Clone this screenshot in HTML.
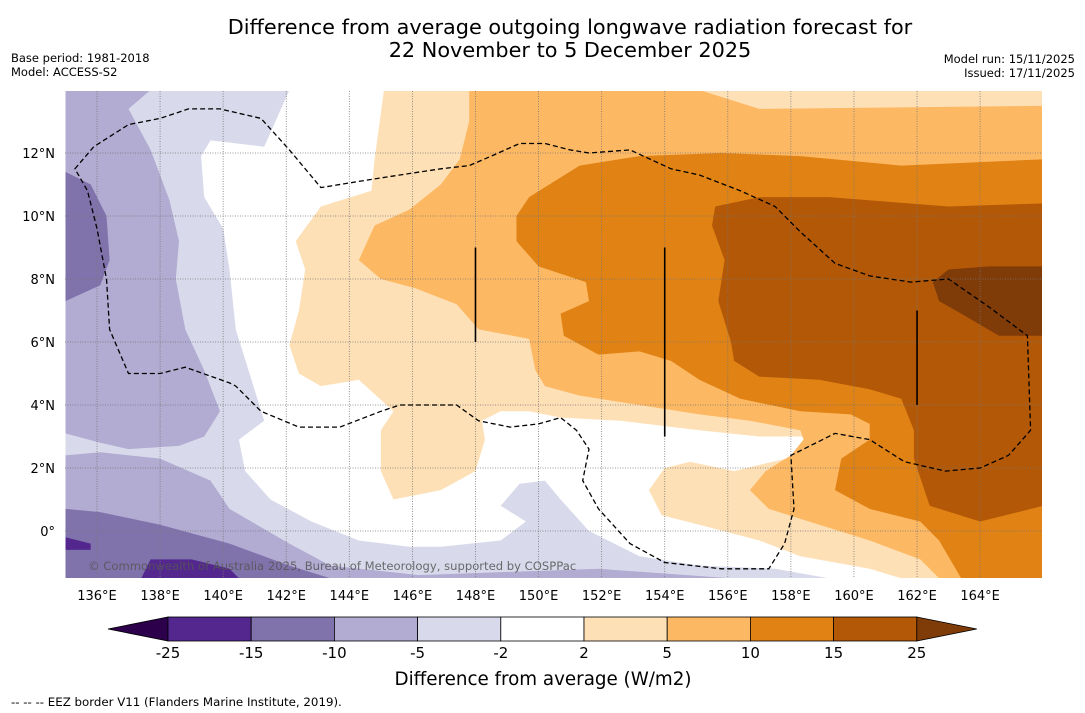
<!DOCTYPE html>
<html><head><meta charset="utf-8">
<style>
body{margin:0;background:#fff;width:1085px;height:713px;overflow:hidden;font-family:"DejaVu Sans","Liberation Sans",sans-serif;}
svg{display:block}
</style></head>
<body>
<svg id="chart" width="1085" height="713" xmlns="http://www.w3.org/2000/svg">
<text x="570" y="34" text-anchor="middle" font-size="20.8">Difference from average outgoing longwave radiation forecast for</text>
<text x="570" y="57" text-anchor="middle" font-size="20.8">22 November to 5 December 2025</text>
<text x="11" y="62" font-size="11.5">Base period: 1981-2018</text>
<text x="11" y="76" font-size="11.5">Model: ACCESS-S2</text>
<text x="1075" y="63" text-anchor="end" font-size="11.5">Model run: 15/11/2025</text>
<text x="1075" y="77" text-anchor="end" font-size="11.5">Issued: 17/11/2025</text>
<defs><clipPath id="mapclip"><rect x="65" y="91" width="977" height="487"/></clipPath></defs>
<g id="map" clip-path="url(#mapclip)"></g>
<g id="axes"></g>
<g id="cbar"></g>
<text x="543" y="685" text-anchor="middle" font-size="18.3">Difference from average (W/m2)</text>
<text x="11" y="706" font-size="11.8">--  --  -- EEZ border V11 (Flanders Marine Institute, 2019).</text>
</svg>
<script>
const lonTicks=[136,138,140,142,144,146,148,150,152,154,156,158,160,162,164];
const latTicks=[0,2,4,6,8,10,12];
const levelLabels=['-25','-15','-10','-5','-2','2','5','10','15','25'];
const levelColors=['#54278f','#8073ac','#b2abd2','#d8daeb','#ffffff','#fee0b6','#fdb863','#e08214','#b35806'];
const lowColor='#2d004b', highColor='#7f3b08';

const lavender=[[135,14],[142.1,14],[141.3,12.2],[139.6,12.4],[139.3,11.9],[139.4,10.6],[140,9.6],[140.2,8.3],[140.4,6.4],[140.9,4.8],[141.3,3.5],[140.5,2.9],[140.7,1.9],[141.5,1.0],[142.8,0.3],[144.3,-0.3],[145.9,-0.5],[146.9,-0.5],[148.8,-0.3],[149.6,0.3],[148.8,0.8],[149.4,1.5],[150.2,1.6],[150.7,1.0],[151.6,0.0],[153.2,-0.8],[155.1,-1.1],[157.5,-1.2],[159.2,-1.5],[135,-1.5]];
const medium1=[[135,14],[137.7,14],[137,13.4],[137.7,12.1],[138.3,10.5],[138.6,9.2],[138.5,8.0],[138.8,6.4],[139.4,5.1],[139.9,3.8],[139.4,3.0],[138.6,2.7],[137,2.6],[136.1,2.8],[135,3.1]];
const medium2=[[135,2.4],[136.1,2.5],[138,2.3],[139.6,1.6],[140.2,0.7],[142.1,-0.4],[143.4,-1.1],[146.2,-1.4],[151.9,-1.2],[156.1,-1.5],[135,-1.5]];
const medDark1=[[135,11.4],[135.8,11.0],[136.3,10.0],[136.4,8.6],[136.1,7.8],[135,7.3]];
const medDark2=[[135,0.7],[136.1,0.6],[138,0.2],[140.2,-0.4],[142.1,-1.1],[143.4,-1.5],[135,-1.5]];
const dark1=[[137.4,-1.5],[137.7,-0.9],[139,-0.9],[140.2,-1.2],[140.5,-1.5]];
const dark2=[[135,-0.2],[135.8,-0.4],[135.8,-0.6],[135,-0.6]];
const peach=[[145.1,14],[144.8,11.8],[144.7,10.8],[143.1,10.3],[142.3,9.2],[142.6,8.3],[142.4,7.0],[142.1,5.9],[142.4,5.0],[143.1,4.6],[144.3,4.8],[145.4,3.8],[145,3.2],[145,1.9],[145.4,1.0],[146.9,1.3],[148,1.9],[148.3,2.9],[148.2,3.5],[148.8,3.8],[149.7,3.8],[150.7,3.6],[152.6,3.5],[155.1,3.2],[157,3.0],[158.5,3.0],[158.3,2.4],[157,2.1],[156.2,1.9],[154.8,2.2],[154,2.0],[153.5,1.3],[153.9,0.5],[155.1,0.2],[157,-0.3],[158.3,-0.8],[160.5,-1.2],[161.5,-1.5],[166,-1.5],[166,14]];
const orange=[[147.8,14],[155.1,14],[157,13.4],[166,13.5],[166,-1.5],[162.7,-1.5],[162.1,-0.9],[160.5,-0.3],[158.9,0.2],[157.3,0.7],[156.7,1.3],[157.2,1.9],[158,2.4],[158.4,2.9],[158.3,3.2],[156.7,3.5],[155.1,3.7],[153.2,4.0],[151.3,4.3],[150.2,4.6],[149.9,5.1],[149.7,6.1],[148.1,6.4],[147.4,7.2],[146.1,7.7],[145,8.0],[144.3,8.6],[144.8,9.7],[145.9,10.2],[146.9,11.0],[147.5,11.8],[147.8,13.0]];
const dkOrange=[[153.2,11.9],[155.8,12.0],[158.3,11.9],[161.5,11.6],[166,11.8],[166,-1.5],[163.4,-1.5],[162.7,-0.3],[162.1,0.3],[160.5,0.7],[159.4,1.3],[159.6,2.3],[160.5,2.9],[160.5,3.4],[159.9,3.7],[158.3,3.8],[156.4,4.2],[155.1,4.8],[154.2,5.4],[153.2,5.7],[151.9,5.6],[150.8,6.2],[150.7,6.9],[151.6,7.3],[151.5,7.9],[150,8.4],[149.3,9.2],[149.3,10.0],[149.7,10.6],[151.3,11.6]];
const brown=[[155.6,10.3],[157,10.6],[159.2,10.6],[163,10.3],[166,10.4],[166,0.8],[164,0.3],[162.4,0.8],[161.9,2.3],[161.9,3.2],[161.5,4.2],[160.5,4.5],[158.9,4.8],[157,4.9],[156.2,5.4],[156.1,6.0],[155.7,7.3],[155.9,8.6],[155.5,9.7]];
const darkest=[[162.5,7.9],[163,8.3],[164.3,8.4],[166,8.4],[166,6.2],[164.6,6.2],[163.4,6.9],[162.7,7.3]];
const eez=[[135.3,11.5],[135.9,12.2],[137,12.9],[138,13.1],[138.9,13.4],[139.9,13.4],[141.2,13.1],[142.1,12.1],[143.1,10.9],[144.3,11.1],[145.6,11.3],[146.9,11.5],[147.8,11.6],[148.5,11.9],[149.4,12.3],[150.2,12.3],[151,12.1],[151.6,12.0],[152.9,12.1],[154.2,11.5],[155.1,11.3],[156.4,10.8],[157.5,10.3],[158.3,9.5],[159.4,8.5],[160.5,8.1],[161.8,7.9],[163,8.0],[164.3,7.1],[165.5,6.2],[165.6,3.2],[164.9,2.4],[164,2.0],[162.9,1.9],[161.6,2.2],[160.5,2.9],[159.4,3.1],[158,2.4],[158.1,0.7],[157.8,-0.4],[157.3,-1.2],[155.8,-1.2],[154.0,-1.0],[152.9,-0.4],[151.9,0.7],[151.4,1.6],[151.6,2.6],[151.2,3.2],[150.7,3.6],[150,3.4],[149.1,3.3],[148.1,3.5],[147.4,4.0],[146.2,4.0],[145.6,4.0],[145,3.8],[143.7,3.3],[142.4,3.3],[141.2,3.8],[140.4,4.6],[140.2,4.7],[138.8,5.2],[138,5.0],[137,5.0],[136.4,6.4],[136.3,8.0],[136,9.6],[135.7,10.8]];
const blackLines=[[148,6.0,9.0],[154,3.0,9.0],[162,4.0,7.0]];

const NS='http://www.w3.org/2000/svg';
const X=lon=>97+(lon-136)*31.54;
const Y=lat=>531-lat*31.5;
const map=document.getElementById('map'), axes=document.getElementById('axes'), cbar=document.getElementById('cbar');
function mk(tag,attrs,parent){const e=document.createElementNS(NS,tag);for(const k in attrs)e.setAttribute(k,attrs[k]);parent.appendChild(e);return e;}
const pts=a=>a.map(p=>X(p[0]).toFixed(1)+','+Y(p[1]).toFixed(1)).join(' ');

let bg=mk('rect',{x:65,y:91,width:977,height:487,fill:'#ffffff'},map);


const layers=[[lavender,3,'region-minus2-to-minus5'],[medium1,2,'region-minus5-to-minus10-north'],[medium2,2,'region-minus5-to-minus10-south'],[medDark1,1,'region-minus10-to-minus15-west'],[medDark2,1,'region-minus10-to-minus15-south'],[dark1,0,'region-minus15-to-minus25-a'],[dark2,0,'region-minus15-to-minus25-b'],[peach,5,'region-2-to-5'],[orange,6,'region-5-to-10'],[dkOrange,7,'region-10-to-15'],[brown,8,'region-15-to-25']];
layers.forEach(l=>{
  const p=mk('polygon',{points:pts(l[0]),fill:levelColors[l[1]]},map);
  
  
});
let dp=mk('polygon',{points:pts(darkest),fill:highColor},map);



lonTicks.forEach(v=>{
  const g=mk('line',{x1:X(v),x2:X(v),y1:91,y2:578,stroke:'#777','stroke-width':0.8,'stroke-dasharray':'1,1.5'},map);
  
  
  const t=mk('text',{x:X(v),y:600,'text-anchor':'middle','font-size':13},axes);
  t.textContent=v+'°E';
  
  
});
latTicks.forEach(v=>{
  const g=mk('line',{x1:65,x2:1042,y1:Y(v),y2:Y(v),stroke:'#777','stroke-width':0.8,'stroke-dasharray':'1,1.5'},map);
  
  
  const t=mk('text',{x:55,y:Y(v)+5,'text-anchor':'end','font-size':13},axes);
  t.textContent=v===0?'0°':v+'°N';
  
  
});
blackLines.forEach(b=>{
  const l=mk('line',{x1:X(b[0]),x2:X(b[0]),y1:Y(b[2]),y2:Y(b[1]),stroke:'#000','stroke-width':1.6},map);
  
  
});
let ez=mk('polygon',{points:pts(eez),fill:'none',stroke:'#000','stroke-width':1.3,'stroke-dasharray':'5,3'},map);


let cp=mk('text',{x:88,y:570,'font-size':11.6,fill:'#555','fill-opacity':0.85},map);
cp.textContent='© Commonwealth of Australia 2025, Bureau of Meteorology, supported by COSPPac';



const cbX0=168,cbW=83.2,cbY=617,cbH=24;
let lt=mk('polygon',{points:`108,${cbY+cbH/2} ${cbX0},${cbY} ${cbX0},${cbY+cbH}`,fill:lowColor,stroke:'#000','stroke-width':0.8},cbar);


levelColors.forEach((c,i)=>{
  const r=mk('rect',{x:cbX0+i*cbW,y:cbY,width:cbW,height:cbH,fill:c,stroke:'#000','stroke-width':0.8},cbar);
  
  
});
const cbX1=cbX0+levelColors.length*cbW;
let rt=mk('polygon',{points:`${cbX1},${cbY} ${cbX1+60},${cbY+cbH/2} ${cbX1},${cbY+cbH}`,fill:highColor,stroke:'#000','stroke-width':0.8},cbar);


levelLabels.forEach((s,i)=>{
  const t=mk('text',{x:cbX0+i*cbW,y:658,'text-anchor':'middle','font-size':15},cbar);
  t.textContent=s;
  
  
});
</script>
</body></html>
